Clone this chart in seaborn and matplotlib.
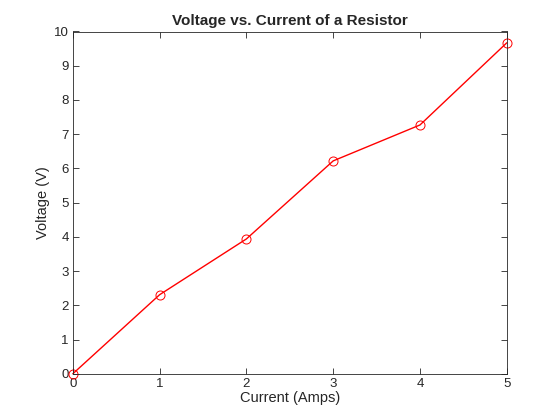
import matplotlib
matplotlib.use("Agg")
import matplotlib.pyplot as plt
import seaborn as sns
import pandas as pd

current = [0, 1, 2, 3, 4, 5]
voltage = [0.0, 2.31, 3.94, 6.22, 7.27, 9.67]

df = pd.DataFrame({"Current": current, "Voltage": voltage})

sns.set_style("ticks")
plt.rcParams['font.family'] = ['Liberation Sans', 'DejaVu Sans']

fig = plt.figure(figsize=(5.6, 4.2), dpi=100)
ax = fig.add_axes([0.13, 0.11, 0.775, 0.815])

sns.lineplot(data=df, x="Current", y="Voltage", color="red", linewidth=1,
             marker="o", markersize=6.5, markerfacecolor="none",
             markeredgecolor="red", markeredgewidth=0.7, clip_on=False, ax=ax)

ax.set_xlim(0, 5)
ax.set_ylim(0, 10)
ax.set_xticks(range(0, 6))
ax.set_yticks(range(0, 11))
ax.tick_params(direction="in", top=True, right=True, length=4, width=0.6,
               labelsize=9.5, colors="#262626", pad=3)
for s in ax.spines.values():
    s.set_color("#262626")
    s.set_linewidth(0.6)

ax.set_xlabel("Current (Amps)", fontsize=10.5, color="#262626", labelpad=1)
ax.set_ylabel("Voltage (V)", fontsize=10.5, color="#262626", labelpad=3)
ax.set_title("Voltage vs. Current of a Resistor", fontsize=11,
             fontweight="bold", pad=5)

fig.savefig("out.png", dpi=100)
